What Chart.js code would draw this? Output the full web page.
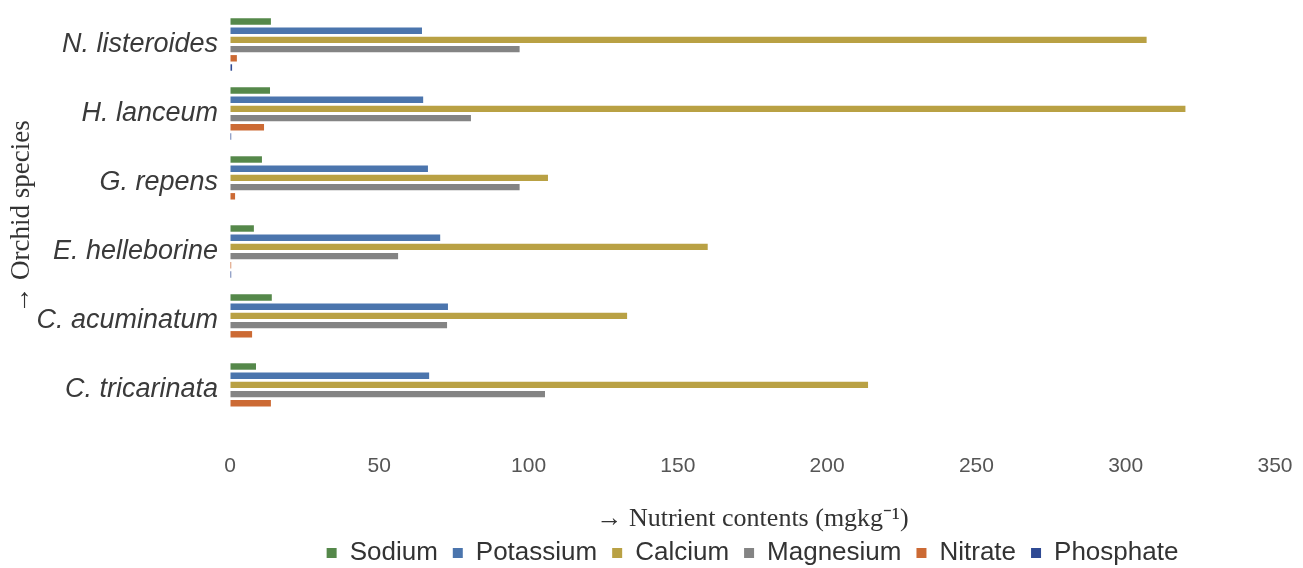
<!DOCTYPE html>
<html>
<head>
<meta charset="utf-8">
<script src="https://cdn.jsdelivr.net/npm/chart.js@4/dist/chart.umd.min.js"></script>
<style>
  html, body { margin: 0; padding: 0; background: #fff; }
  #wrap { width: 1303px; height: 568px; position: relative; }
</style>
</head>
<body>
<div id="wrap"><canvas id="c"></canvas></div>
<script>
// Nutrient contents of orchid species — horizontal grouped bars
const species = ['N. listeroides', 'H. lanceum', 'G. repens', 'E. helleborine', 'C. acuminatum', 'C. tricarinata'];

const sodium    = [13.7, 13.4, 10.7, 8.0, 14.0, 8.7];
const potassium = [64.3, 64.7, 66.3, 70.4, 73.0, 66.7];
const calcium   = [307, 320, 106.5, 160, 133, 213.7];
const magnesium = [97, 80.7, 97, 56.3, 72.7, 105.5];
const nitrate   = [2.3, 11.4, 1.7, 0.4, 7.4, 13.7];
const phosphate = [0.7, 0.4, 0, 0.4, 0, 0];

const xTicks = [0, 50, 100, 150, 200, 250, 300, 350];

const series = [
    ['Sodium', sodium, '#55884a'],
    ['Potassium', potassium, '#4b75ad'],
    ['Calcium', calcium, '#b9a144'],
    ['Magnesium', magnesium, '#848484'],
    ['Nitrate', nitrate, '#cc6a34'],
    ['Phosphate', phosphate, '#2f4a94']
];

const datasets = series.map(([label, data, color]) => ({
    label,
    data,
    backgroundColor: color,
    borderWidth: 0,
    categoryPercentage: 0.8,
    barPercentage: 0.7
}));

// invisible tick marks, used only to offset the labels from the plot
const hiddenGrid = len => ({
    display: true,
    drawOnChartArea: false,
    drawTicks: true,
    tickLength: len,
    color: 'rgba(0,0,0,0)'
});

new Chart(document.getElementById('c'), {
    type: 'bar',
    data: { labels: species, datasets },
    options: {
        indexAxis: 'y',
        responsive: true,
        maintainAspectRatio: false,
        animation: false,
        layout: { padding: { top: 10, right: 28, bottom: -8, left: 0 } },
        plugins: {
            legend: {
                position: 'bottom',
                fullSize: false,
                labels: {
                    boxWidth: 10,
                    boxHeight: 10,
                    padding: 15,
                    color: '#333',
                    font: { family: 'Liberation Sans, Arial, sans-serif', size: 26 }
                }
            },
            tooltip: { enabled: false }
        },
        scales: {
            x: {
                min: 0,
                max: 350,
                afterBuildTicks: s => { s.ticks = xTicks.map(v => ({ value: v })); },
                afterFit: s => { s.height = 101; },
                grid: hiddenGrid(28),
                border: { display: false },
                ticks: {
                    padding: 2,
                    color: '#555',
                    font: { family: 'Liberation Sans, Arial, sans-serif', size: 21, lineHeight: 1.15 }
                },
                title: {
                    display: true,
                    text: '\u2192 Nutrient contents (mgkg\u207B\u00B9)',
                    color: '#333',
                    font: { family: 'Liberation Serif, Times New Roman, serif', size: 26, lineHeight: 1.2 },
                    padding: { top: 20, bottom: -10 }
                }
            },
            y: {
                grid: hiddenGrid(12),
                border: { display: false },
                afterFit: s => { s.width = 230; },
                ticks: {
                    padding: 0,
                    color: '#3a3a3a',
                    font: { family: 'Liberation Sans, Arial, sans-serif', size: 27, style: 'italic', lineHeight: 0.1 }
                },
                title: {
                    display: true,
                    text: '\u2192 Orchid species',
                    color: '#333',
                    font: { family: 'Liberation Serif, Times New Roman, serif', size: 27, lineHeight: 1.2 },
                    padding: { top: 6, bottom: 0 }
                }
            }
        }
    }
});
</script>
</body>
</html>
